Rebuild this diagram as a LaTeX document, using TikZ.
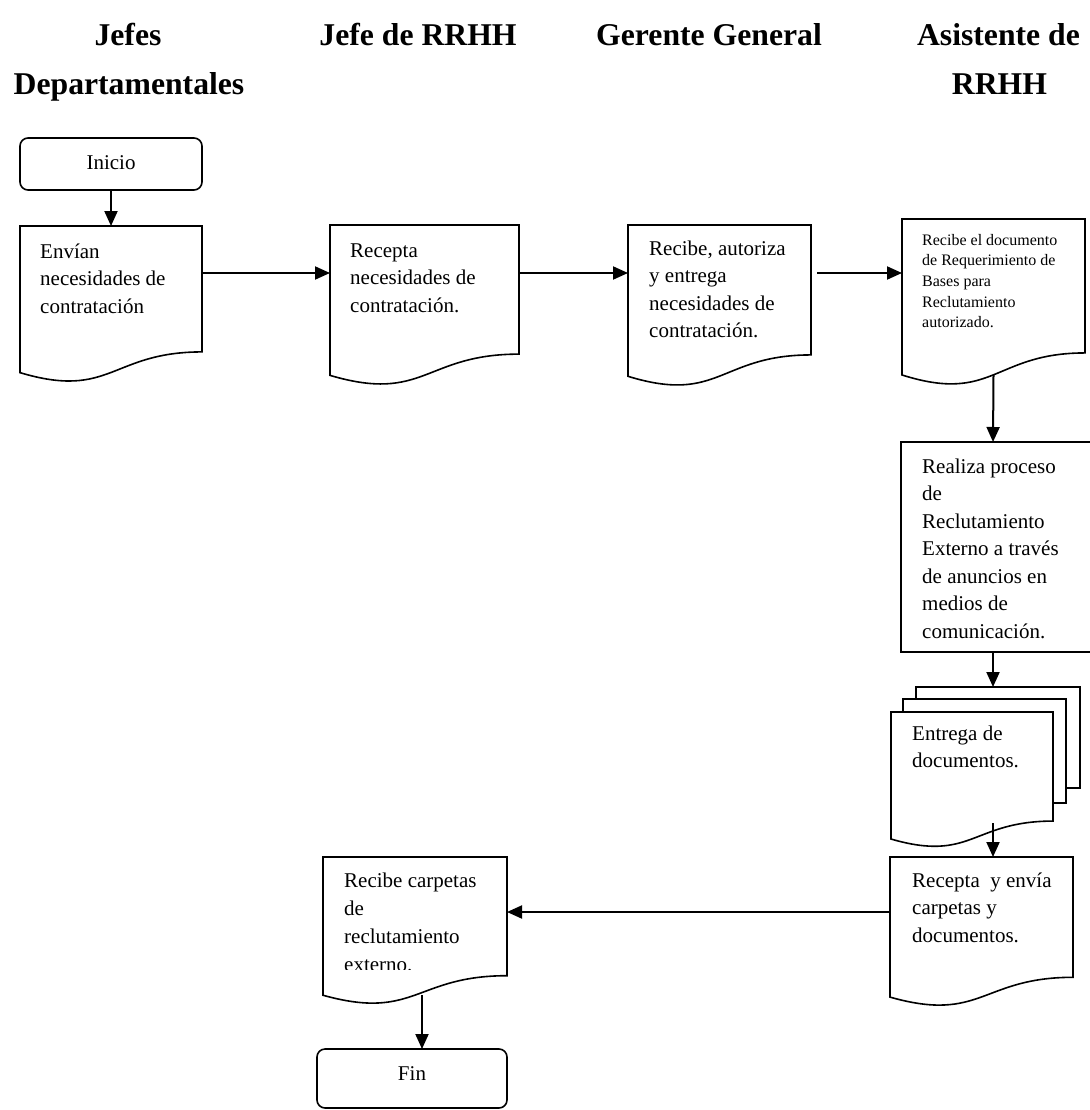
\documentclass[tikz,border=0pt]{standalone}
\usepackage{fontspec}
\setmainfont{Liberation Serif}
\usetikzlibrary{calc,arrows.meta}

% outline of a flowchart "document" box laid over a frame node
\newcommand\docoutline[1]{%
  \draw[box] (#1.north west) -- (#1.north east)
    -- ($(#1.north east)!0.802!(#1.south east)$)
    .. controls ($(#1.north)!0.802!(#1.south)$) and ($(#1.north)!1.1075!(#1.south)$)
    .. ($(#1.north west)!0.934!(#1.south west)$) -- cycle;}
\newcommand\txtlines[1]{\begin{tabular}[t]{@{}l@{}}#1\end{tabular}}

\tikzset{
  box/.style={line width=1.6pt, line join=miter},
  frame/.style={draw=none, inner sep=0pt, outer sep=0pt, anchor=north west},
  term/.style={draw, line width=1.6pt, rounded corners=8pt, inner sep=0pt, outer sep=0pt, anchor=north west},
  flow/.style={line width=2pt, -{Triangle[length=15pt,width=13pt]}},
  body/.style={inner sep=0pt, anchor=base west, font=\fontsize{21pt}{27.5pt}\selectfont},
  small/.style={inner sep=0pt, anchor=base west, font=\fontsize{16pt}{20.7pt}\selectfont},
  label/.style={inner sep=0pt, anchor=base, font=\fontsize{21pt}{27.5pt}\selectfont},
  head/.style={inner sep=0pt, anchor=base, font=\fontsize{31.7pt}{38pt}\selectfont\bfseries},
}

\begin{document}
\begin{tikzpicture}[x=1pt, y=-1pt]
\useasboundingbox (0,0) rectangle (1089,1110);

% column headings
\node[head] (h1) at (128,46) {Jefes};
\node[head] (h2) at (129,95) {Departamentales};
\node[head] (h3) at (418,46) {Jefe de RRHH};
\node[head] (h4) at (709,46) {Gerente General};
\node[head] (h5) at (998.5,46) {Asistente de};
\node[head] (h6) at (999.5,95) {RRHH};

% start terminal
\node[term, minimum width=182pt, minimum height=52pt] (inicio) at (20,138) {};
\node[label] (tinicio) at (111,170) {Inicio};

% document boxes of the first row
\node[frame, minimum width=182pt, minimum height=157pt] (d1) at (20,226) {};
\docoutline{d1}
\node[body] (t1) at (40,258) {\txtlines{Envían\\necesidades de\\contratación}};

\node[frame, minimum width=189pt, minimum height=161pt] (d2) at (330,225) {};
\docoutline{d2}
\node[body] (t2) at (350,257) {\txtlines{Recepta\\necesidades de\\contratación.}};

\node[frame, minimum width=183pt, minimum height=162pt] (d3) at (628,225) {};
\docoutline{d3}
\node[body] (t3) at (649,255) {\txtlines{Recibe, autoriza\\y entrega\\necesidades de\\contratación.}};

\node[frame, minimum width=183pt, minimum height=167pt] (d4) at (902,219) {};
\docoutline{d4}
\node[small] (t4) at (922,245) {\txtlines{Recibe el documento\\de Requerimiento de\\Bases para\\Reclutamiento\\autorizado.}};

% process box
\node[frame, draw, line width=1.6pt, minimum width=200pt, minimum height=210pt] (r) at (901,442) {};
\node[body] (tr) at (922,473) {\txtlines{Realiza proceso\\de\\Reclutamiento\\Externo a través\\de anuncios en\\medios de\\comunicación.}};

% stacked documents
\draw[box] (916,699) -- (916,687) -- (1080,687) -- (1080,788) -- (1066,788);
\draw[box] (903,712) -- (903,699) -- (1066,699) -- (1066,803) -- (1053,803);
\node[frame, minimum width=162pt, minimum height=136pt] (md) at (891,712) {};
\docoutline{md}
\node[body] (tmd) at (912,740) {\txtlines{Entrega de\\documentos.}};

% lower documents
\node[frame, minimum width=183pt, minimum height=150pt] (rc) at (890,857) {};
\docoutline{rc}
\node[body] (trc) at (912,887) {\txtlines{Recepta\ \ y envía\\carpetas y\\documentos.}};

\node[frame, minimum width=184pt, minimum height=148pt] (cp) at (323,857) {};
\docoutline{cp}
\begin{scope}
  \clip (323,857) rectangle (507,969.5);
  \node[body, font=\fontsize{21pt}{28pt}\selectfont] (tcp) at (344,887) {\txtlines{Recibe carpetas\\de\\reclutamiento\\externo.}};
\end{scope}

% end terminal
\node[term, minimum width=190pt, minimum height=59pt] (fin) at (317,1049) {};
\node[label] (tfin) at (412,1080) {Fin};

% connectors
\coordinate (row) at (0,273);
\coordinate (col) at (993,0);
\coordinate (col2) at (422,0);

\draw[flow] (inicio.south) -- (d1.north);
\draw[flow] (d1.east |- row) -- (d2.west |- row);
\draw[flow] (d2.east |- row) -- (d3.west |- row);
\draw[flow, shorten <=6pt] (d3.east |- row) -- (d4.west |- row);
\draw[flow] ($(d4.north)!0.933!(d4.south)$) -- (col |- r.north);
\draw[flow] (col |- r.south) -- (col |- 0,687);
\draw[flow] (col |- 0,823) -- (col |- rc.north);
\draw[flow] (rc.west |- 0,912) -- (cp.east |- 0,912);
\draw[flow] (col2 |- 0,995) -- (col2 |- fin.north);
\end{tikzpicture}
\end{document}
